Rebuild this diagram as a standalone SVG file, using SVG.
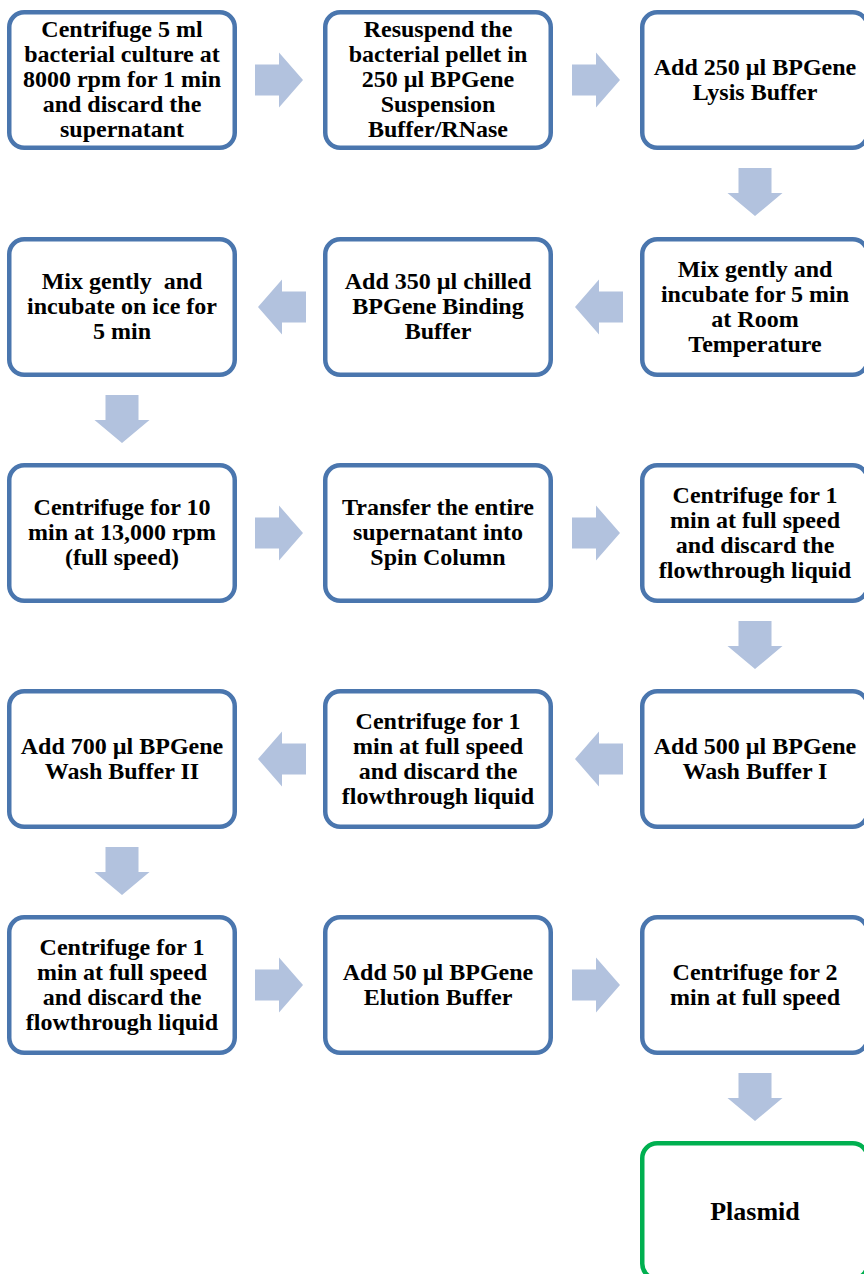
<svg xmlns="http://www.w3.org/2000/svg" width="864" height="1274" viewBox="0 0 864 1274">
<style>
.box{fill:#fff;stroke:#4A76AE;stroke-width:4.5}
.end{fill:#fff;stroke:#00B050;stroke-width:4.5}
.arr{fill:#B2C2DE;stroke:none}
text{font-family:"Liberation Serif","Times New Roman",serif;font-weight:bold;font-size:24px;fill:#000;text-anchor:middle}
.big{font-size:26px}
</style>
<rect width="864" height="1274" fill="#fff"/>
<g id="connectors">
<polygon class="arr" points="255,64.5 279,64.5 279,52.5 303,80 279,107.5 279,95.5 255,95.5"/>
<polygon class="arr" points="572,64.5 596,64.5 596,52.5 620,80 596,107.5 596,95.5 572,95.5"/>
<polygon class="arr" points="738.5,168 771.5,168 771.5,193 782.5,193 755,216 727.5,193 738.5,193"/>
<polygon class="arr" points="623,291.5 599,291.5 599,279.5 575,307 599,334.5 599,322.5 623,322.5"/>
<polygon class="arr" points="306,291.5 282,291.5 282,279.5 258,307 282,334.5 282,322.5 306,322.5"/>
<polygon class="arr" points="105.5,395 138.5,395 138.5,420 149.5,420 122,443 94.5,420 105.5,420"/>
<polygon class="arr" points="255,517.5 279,517.5 279,505.5 303,533 279,560.5 279,548.5 255,548.5"/>
<polygon class="arr" points="572,517.5 596,517.5 596,505.5 620,533 596,560.5 596,548.5 572,548.5"/>
<polygon class="arr" points="738.5,621 771.5,621 771.5,646 782.5,646 755,669 727.5,646 738.5,646"/>
<polygon class="arr" points="623,743.5 599,743.5 599,731.5 575,759 599,786.5 599,774.5 623,774.5"/>
<polygon class="arr" points="306,743.5 282,743.5 282,731.5 258,759 282,786.5 282,774.5 306,774.5"/>
<polygon class="arr" points="105.5,847 138.5,847 138.5,872 149.5,872 122,895 94.5,872 105.5,872"/>
<polygon class="arr" points="255,969.5 279,969.5 279,957.5 303,985 279,1012.5 279,1000.5 255,1000.5"/>
<polygon class="arr" points="572,969.5 596,969.5 596,957.5 620,985 596,1012.5 596,1000.5 572,1000.5"/>
<polygon class="arr" points="738.5,1073 771.5,1073 771.5,1098 782.5,1098 755,1121 727.5,1098 738.5,1098"/>
</g>
<g id="n1"><rect class="box" x="9.25" y="12.25" width="225.5" height="135.5" rx="15"/>
<text x="122" y="37">Centrifuge 5 ml</text><text x="122" y="62">bacterial culture at</text><text x="122" y="87">8000 rpm for 1 min</text><text x="122" y="112">and discard the</text><text x="122" y="137">supernatant</text></g>
<g id="n2"><rect class="box" x="325.25" y="12.25" width="225.5" height="135.5" rx="15"/>
<text x="438" y="37">Resuspend the</text><text x="438" y="62">bacterial pellet in</text><text x="438" y="87">250 µl BPGene</text><text x="438" y="112">Suspension</text><text x="438" y="137">Buffer/RNase</text></g>
<g id="n3"><rect class="box" x="642.25" y="12.25" width="225.5" height="135.5" rx="15"/>
<text x="755" y="75">Add 250 µl BPGene</text><text x="755" y="100">Lysis Buffer</text></g>
<g id="n4"><rect class="box" x="642.25" y="239.25" width="225.5" height="135.5" rx="15"/>
<text x="755" y="276.5">Mix gently and</text><text x="755" y="301.5">incubate for 5 min</text><text x="755" y="326.5">at Room</text><text x="755" y="351.5">Temperature</text></g>
<g id="n5"><rect class="box" x="325.25" y="239.25" width="225.5" height="135.5" rx="15"/>
<text x="438" y="289">Add 350 µl chilled</text><text x="438" y="314">BPGene Binding</text><text x="438" y="339">Buffer</text></g>
<g id="n6"><rect class="box" x="9.25" y="239.25" width="225.5" height="135.5" rx="15"/>
<text x="122" y="289" xml:space="preserve">Mix gently  and</text><text x="122" y="314">incubate on ice for</text><text x="122" y="339">5 min</text></g>
<g id="n7"><rect class="box" x="9.25" y="465.25" width="225.5" height="135.5" rx="15"/>
<text x="122" y="515">Centrifuge for 10</text><text x="122" y="540">min at 13,000 rpm</text><text x="122" y="565">(full speed)</text></g>
<g id="n8"><rect class="box" x="325.25" y="465.25" width="225.5" height="135.5" rx="15"/>
<text x="438" y="515">Transfer the entire</text><text x="438" y="540">supernatant into</text><text x="438" y="565">Spin Column</text></g>
<g id="n9"><rect class="box" x="642.25" y="465.25" width="225.5" height="135.5" rx="15"/>
<text x="755" y="502.5">Centrifuge for 1</text><text x="755" y="527.5">min at full speed</text><text x="755" y="552.5">and discard the</text><text x="755" y="577.5">flowthrough liquid</text></g>
<g id="n10"><rect class="box" x="642.25" y="691.25" width="225.5" height="135.5" rx="15"/>
<text x="755" y="754">Add 500 µl BPGene</text><text x="755" y="779">Wash Buffer I</text></g>
<g id="n11"><rect class="box" x="325.25" y="691.25" width="225.5" height="135.5" rx="15"/>
<text x="438" y="728.5">Centrifuge for 1</text><text x="438" y="753.5">min at full speed</text><text x="438" y="778.5">and discard the</text><text x="438" y="803.5">flowthrough liquid</text></g>
<g id="n12"><rect class="box" x="9.25" y="691.25" width="225.5" height="135.5" rx="15"/>
<text x="122" y="754">Add 700 µl BPGene</text><text x="122" y="779">Wash Buffer II</text></g>
<g id="n13"><rect class="box" x="9.25" y="917.25" width="225.5" height="135.5" rx="15"/>
<text x="122" y="954.5">Centrifuge for 1</text><text x="122" y="979.5">min at full speed</text><text x="122" y="1004.5">and discard the</text><text x="122" y="1029.5">flowthrough liquid</text></g>
<g id="n14"><rect class="box" x="325.25" y="917.25" width="225.5" height="135.5" rx="15"/>
<text x="438" y="980">Add 50 µl BPGene</text><text x="438" y="1005">Elution Buffer</text></g>
<g id="n15"><rect class="box" x="642.25" y="917.25" width="225.5" height="135.5" rx="15"/>
<text x="755" y="980">Centrifuge for 2</text><text x="755" y="1005">min at full speed</text></g>
<g id="n16"><rect class="end" x="642.25" y="1143.25" width="225.5" height="135.5" rx="15"/>
<text class="big" x="755" y="1220">Plasmid</text></g>
</svg>
